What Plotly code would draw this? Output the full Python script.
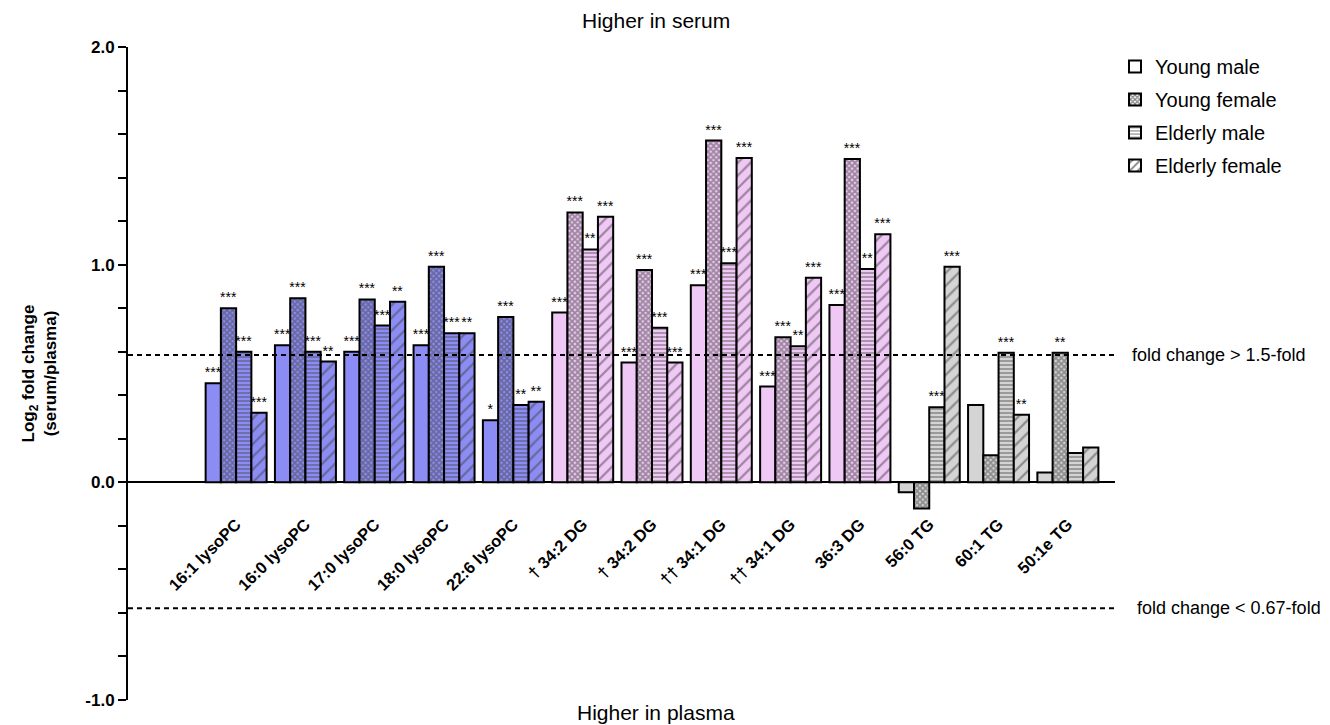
import plotly.graph_objects as go

categories = ["16:1 lysoPC", "16:0 lysoPC", "17:0 lysoPC", "18:0 lysoPC", "22:6 lysoPC",
              "† 34:2 DG", "† 34:2 DG", "†† 34:1 DG", "†† 34:1 DG", "36:3 DG",
              "56:0 TG", "60:1 TG", "50:1e TG"]
lipid_class = ["lysoPC"] * 5 + ["DG"] * 5 + ["TG"] * 3

young_male = [0.455, 0.63, 0.60, 0.63, 0.285, 0.78, 0.55, 0.905, 0.44, 0.815, -0.045, 0.355, 0.045]
young_female = [0.80, 0.846, 0.84, 0.99, 0.76, 1.24, 0.975, 1.57, 0.667, 1.485, -0.12, 0.125, 0.595]
elderly_male = [0.60, 0.60, 0.72, 0.685, 0.355, 1.07, 0.71, 1.007, 0.625, 0.98, 0.345, 0.595, 0.135]
elderly_female = [0.32, 0.555, 0.83, 0.685, 0.37, 1.22, 0.55, 1.49, 0.94, 1.14, 0.99, 0.31, 0.16]

stars_ym = ["***", "***", "***", "***", "*", "***", "***", "***", "***", "***", "", "", ""]
stars_yf = ["***", "***", "***", "***", "***", "***", "***", "***", "***", "***", "", "", "**"]
stars_em = ["***", "***", "***", "***", "**", "**", "***", "***", "**", "**", "***", "***", ""]
stars_ef = ["***", "**", "**", "**", "**", "***", "***", "***", "***", "***", "***", "**", ""]

fold_up = 0.585      # log2(1.5)
fold_down = -0.578   # log2(0.67)

FONT = "Liberation Sans, Arial, sans-serif"

class_color = {"lysoPC": "#8C8CF5", "DG": "#F0C8F5", "TG": "#D4D4D4"}
colors = [class_color[c] for c in lipid_class]
x = list(range(len(categories)))

def light_or_dark(light, dark):
    return [light if c == "lysoPC" else dark for c in lipid_class]

series = [
    ("Young male", young_male, stars_ym, dict(shape="")),
    ("Young female", young_female, stars_yf,
     dict(shape="x", fgcolor=light_or_dark("#141445", "#2a2a2a"), size=4, solidity=0.7)),
    ("Elderly male", elderly_male, stars_em,
     dict(shape="-", fgcolor=light_or_dark("#ffffff", "#555555"), size=4, solidity=0.4)),
    ("Elderly female", elderly_female, stars_ef,
     dict(shape="/", fgcolor=light_or_dark("#ffffff", "#000000"), size=9, solidity=0.25)),
]

fig = go.Figure()
for name, vals, stars, pat in series:
    fig.add_trace(go.Bar(
        x=x, y=vals, name=name, showlegend=False,
        marker=dict(color=colors, line=dict(color="black", width=2), pattern=pat),
        text=stars, textposition="outside", constraintext="none",
        textfont=dict(family=FONT, size=14, color="black"),
        cliponaxis=False,
    ))

# legend swatches (white with black patterns) on a hidden axis
legend_patterns = [
    dict(shape=""),
    dict(shape="x", fgcolor="#000000", size=4, solidity=0.6),
    dict(shape="-", fgcolor="#000000", size=4, solidity=0.3),
    dict(shape="/", fgcolor="#000000", size=7, solidity=0.3),
]
for (name, _, _, _), pat in zip(series, legend_patterns):
    fig.add_trace(go.Bar(
        x=[None], y=[None], name=name, xaxis="x2", yaxis="y2", legendgroup=name,
        marker=dict(color="white", line=dict(color="black", width=2), pattern=pat),
    ))

fig.update_layout(
    width=1322, height=717,
    margin=dict(l=120, r=215, t=39, b=25, autoexpand=False),
    plot_bgcolor="white", paper_bgcolor="white",
    barmode="group", bargap=0.12, bargroupgap=0,
    font=dict(family=FONT, color="black"),
    xaxis=dict(
        range=[-1.56, 12.68], tickvals=x, ticktext=categories, tickangle=-45,
        showline=False, ticks="", showgrid=False, zeroline=False,
        anchor="free", position=0.29, automargin=False,
        tickfont=dict(family=FONT, size=16.5, color="black", weight="bold"),
    ),
    yaxis=dict(
        range=[-1, 2], tickvals=[-1, 0, 1, 2], ticktext=["-1.0", "0.0", "1.0", "2.0"],
        showline=True, linewidth=2, linecolor="black", automargin=False,
        ticks="outside", ticklen=8, tickwidth=2, tickcolor="black",
        minor=dict(dtick=0.2, ticks="outside", ticklen=8, tickwidth=2, tickcolor="black"),
        showgrid=False, zeroline=True, zerolinewidth=2, zerolinecolor="black",
        tickfont=dict(family=FONT, size=17, color="black", weight="bold"),
        title=dict(text="Log<sub>2</sub> fold change<br>(serum/plasma)", standoff=24,
                   font=dict(family=FONT, size=17, color="black", weight="bold")),
    ),
    xaxis2=dict(domain=[0.99, 1.0], visible=False, anchor="y2"),
    yaxis2=dict(domain=[0.99, 1.0], visible=False, anchor="x2"),
    legend=dict(x=1.0, xanchor="left", y=1.0, yanchor="top",
                font=dict(family=FONT, size=20, color="black"),
                tracegroupgap=4, bgcolor="rgba(0,0,0,0)"),
    shapes=[
        dict(type="line", xref="paper", x0=0, x1=1, yref="y", y0=fold_up, y1=fold_up,
             line=dict(color="black", width=2, dash="5px,4px")),
        dict(type="line", xref="paper", x0=0, x1=1, yref="y", y0=fold_down, y1=fold_down,
             line=dict(color="black", width=2, dash="5px,4px")),
    ],
    annotations=[
        dict(text="Higher in serum", xref="paper", yref="paper", x=0.535, y=1.0,
             yanchor="middle", yshift=27,
             showarrow=False, font=dict(family=FONT, size=21, color="black")),
        dict(text="Higher in plasma", xref="paper", yref="paper", x=0.535, y=0.0,
             yanchor="middle", yshift=-12,
             showarrow=False, font=dict(family=FONT, size=21, color="black")),
        dict(text="fold change > 1.5-fold", xref="paper", yref="y", x=1.0, y=fold_up,
             xanchor="left", xshift=15, showarrow=False,
             font=dict(family=FONT, size=18, color="black")),
        dict(text="fold change < 0.67-fold", xref="paper", yref="y", x=1.0, y=fold_down,
             xanchor="left", xshift=20, showarrow=False,
             font=dict(family=FONT, size=18, color="black")),
    ],
)

fig.write_html("out.html")
